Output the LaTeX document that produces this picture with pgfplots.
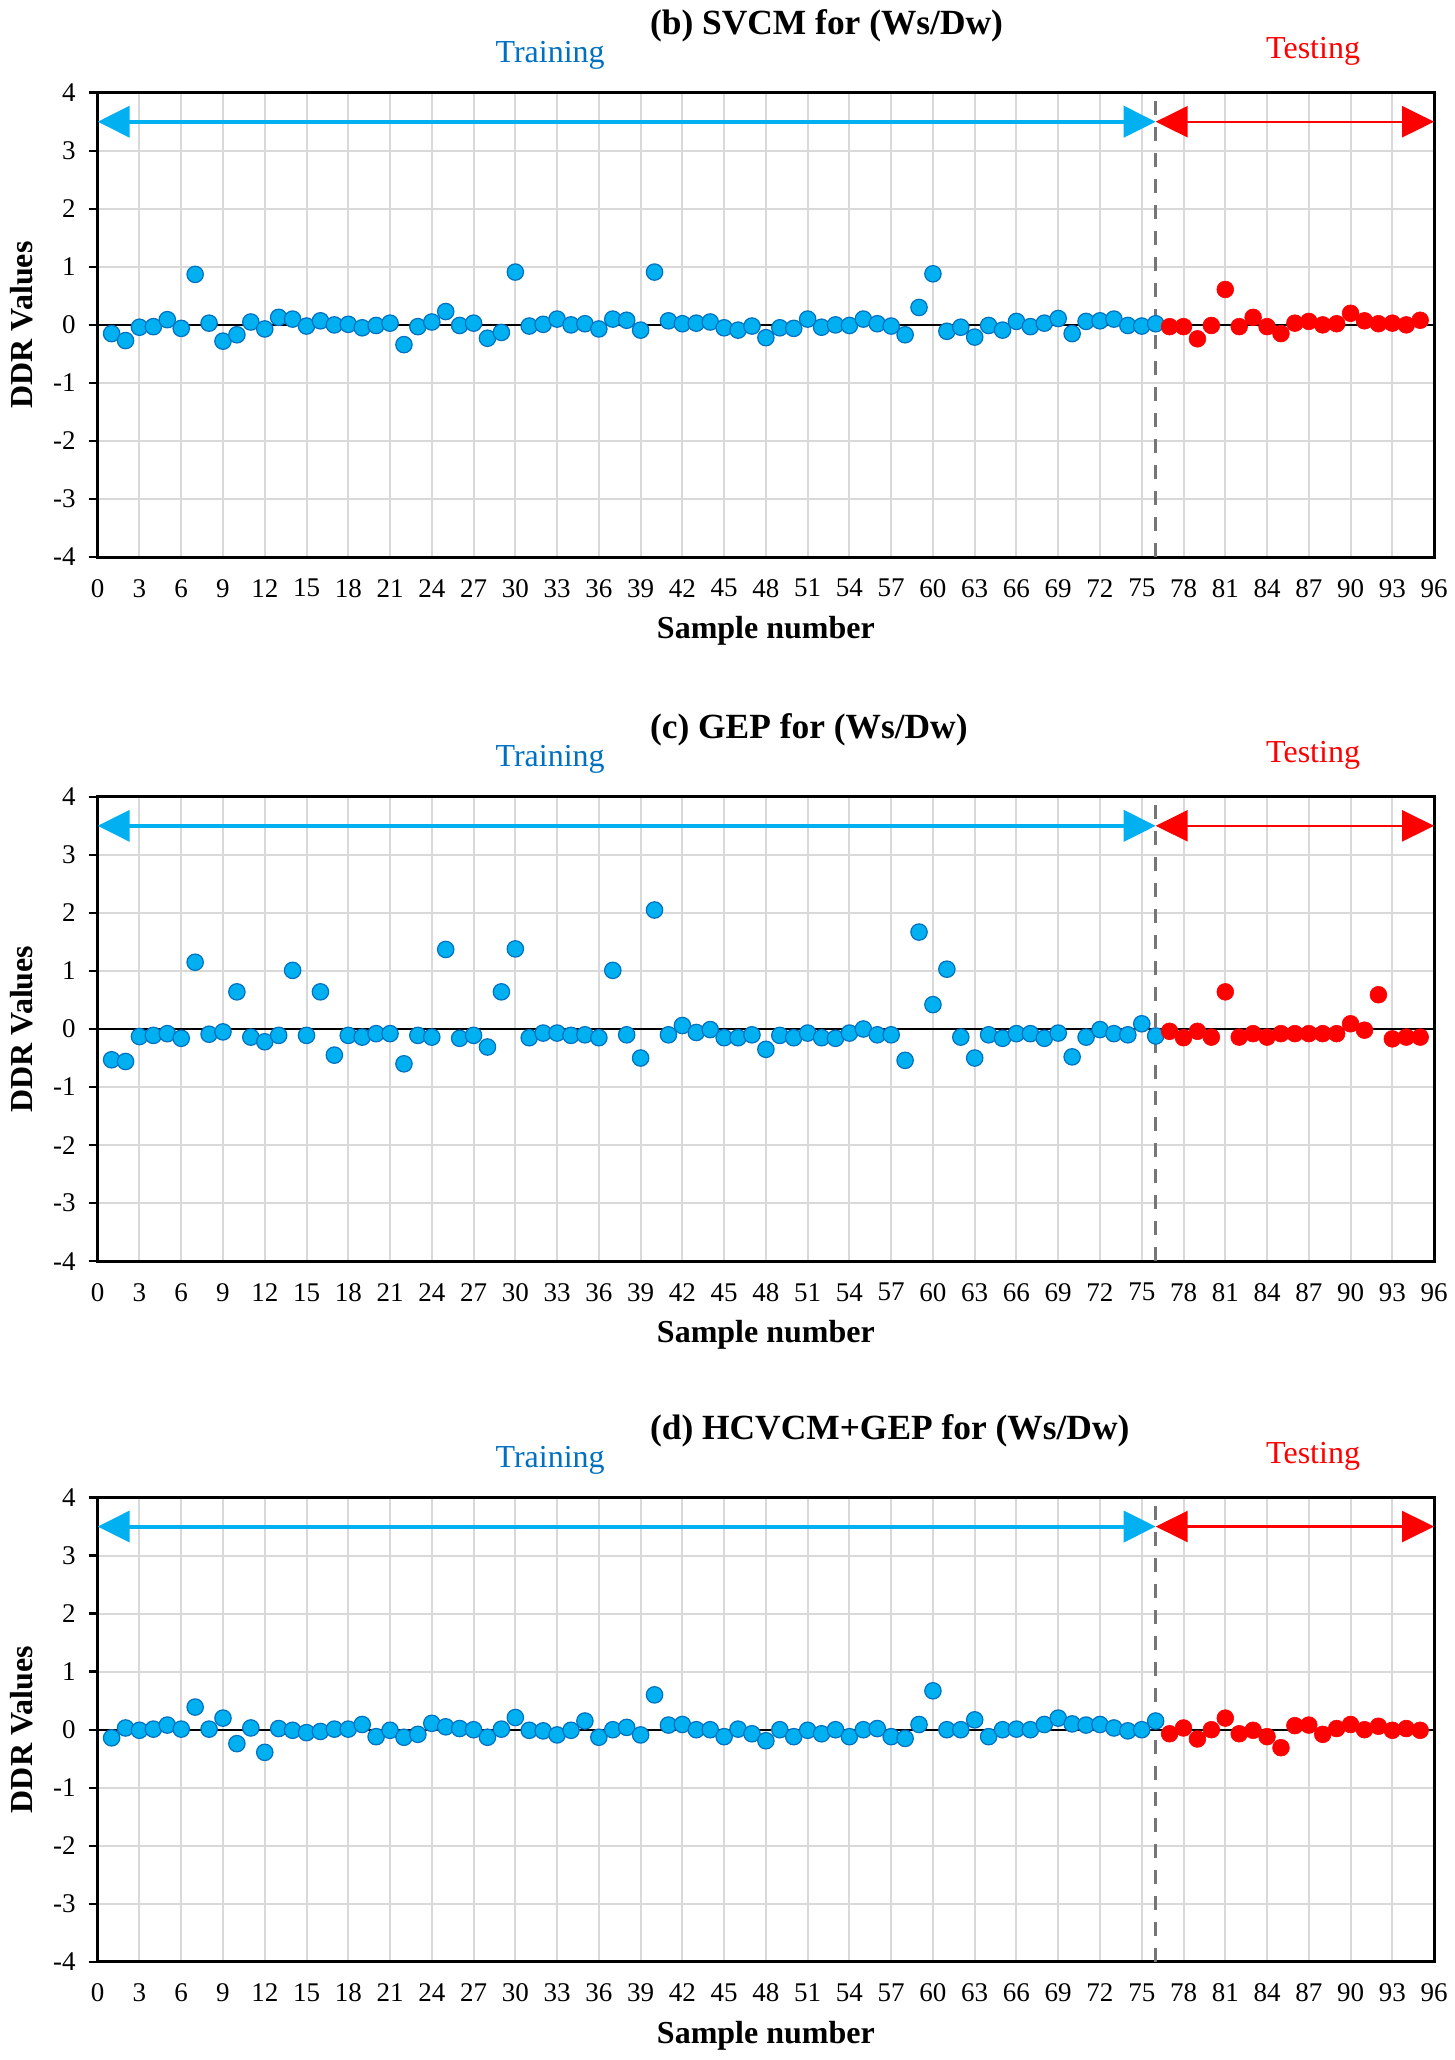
\documentclass[border=0pt]{standalone}
\usepackage{fontspec}
\setmainfont{Liberation Serif}
\usepackage{pgfplots}
\pgfplotsset{compat=1.18}
\usetikzlibrary{arrows.meta}
\definecolor{skyb}{RGB}{0,176,240}
\definecolor{edgeb}{RGB}{0,112,192}
\definecolor{txtb}{RGB}{0,112,192}
\definecolor{gridc}{RGB}{217,217,217}
\definecolor{dashc}{RGB}{118,118,118}

\pgfplotsset{
  ddr/.style={
    scale only axis, width=668.2pt, height=232.2pt,
    xmin=0,xmax=96,ymin=-4,ymax=4,
    xtick={0,3,...,96}, ytick={-4,-3,...,4},
    grid=major, major grid style={gridc, line width=1pt},
    axis line style={black, line width=1.5pt},
    tick align=outside, ytick pos=left, xtick pos=bottom,
    major tick length=4.5pt,
    xtick style={draw=none},
    ytick style={black, line width=1.2pt},
    /pgf/number format/assume math mode=true,
    tick label style={font=\fontsize{13.5}{16}\selectfont},
    xticklabel shift=3pt,
    yticklabel shift=3pt,
    xlabel={Sample number}, ylabel={DDR Values},
    every axis x label/.style={at={([yshift=-37pt]axis description cs:0.5,0)}, anchor=center, font=\fontsize{16}{19}\selectfont\bfseries},
    every axis y label/.style={at={([xshift=-37.9pt]axis description cs:0,0.5)}, anchor=center, rotate=90, font=\fontsize{16}{19}\selectfont\bfseries},
    clip=false,
  },
  trainp/.style={only marks, mark=*, mark size=4.1pt, mark options={fill=skyb, draw=edgeb, line width=0.6pt}},
  testp/.style={only marks, mark=*, mark size=4.2pt, mark options={fill=red, draw=red, line width=0.3pt}},
}
\newcommand{\decor}[1]{%
  \draw[black, line width=1pt] (axis cs:0,0) -- (axis cs:96,0);
  \draw[dashc, line width=1.8pt, dash pattern=on 7pt off 6pt] (axis cs:76,-4) -- (axis cs:76,4);
  \draw[skyb, line width=2pt, {Triangle[length=16pt,width=15.5pt]}-{Triangle[length=16pt,width=15.5pt]}] (axis cs:0,3.5) -- (axis cs:76,3.5);
  \draw[red, line width=1.2pt, {Triangle[length=16pt,width=15.5pt]}-{Triangle[length=16pt,width=15.5pt]}] (axis cs:76,3.5) -- (axis cs:96,3.5);
  \node[anchor=west, font=\fontsize{17.7}{21}\selectfont\bfseries] at ([xshift=272.65pt,yshift=33.5pt]rel axis cs:0,1) {#1};
  \node[txtb, font=\fontsize{16}{19}\selectfont] at ([xshift=226.2pt,yshift=18.5pt]rel axis cs:0,1) {Training};
  \node[red, font=\fontsize{16}{19}\selectfont] at ([xshift=607.7pt,yshift=20.7pt]rel axis cs:0,1) {Testing};
}

\begin{document}
\begin{tikzpicture}
\path[use as bounding box] (0,0) rectangle (727.5pt,-1030pt);

% ---------------- (b) SVCM ----------------
\begin{axis}[ddr, at={(48.85pt,-46.35pt)}, anchor=north west]
\decor{(b) SVCM for (Ws/Dw)}
\addplot[trainp] table {
x y
1 -0.15
2 -0.27
3 -0.04
4 -0.03
5 0.09
6 -0.06
7 0.87
8 0.03
9 -0.28
10 -0.17
11 0.05
12 -0.07
13 0.13
14 0.10
15 -0.02
16 0.07
17 0.00
18 0.01
19 -0.05
20 -0.01
21 0.03
22 -0.34
23 -0.03
24 0.05
25 0.23
26 -0.01
27 0.03
28 -0.23
29 -0.13
30 0.91
31 -0.02
32 0.01
33 0.10
34 0.00
35 0.02
36 -0.07
37 0.10
38 0.08
39 -0.09
40 0.91
41 0.07
42 0.02
43 0.03
44 0.05
45 -0.05
46 -0.09
47 -0.02
48 -0.22
49 -0.05
50 -0.06
51 0.10
52 -0.04
53 0.00
54 -0.01
55 0.10
56 0.02
57 -0.02
58 -0.17
59 0.30
60 0.88
61 -0.11
62 -0.04
63 -0.21
64 -0.01
65 -0.09
66 0.06
67 -0.03
68 0.03
69 0.11
70 -0.15
71 0.06
72 0.07
73 0.10
74 -0.01
75 -0.02
76 0.02
};
\addplot[testp] table {
x y
77 -0.03
78 -0.03
79 -0.24
80 -0.01
81 0.61
82 -0.03
83 0.13
84 -0.03
85 -0.15
86 0.03
87 0.06
88 0.00
89 0.02
90 0.20
91 0.07
92 0.02
93 0.03
94 0.00
95 0.08
};
\end{axis}

% ---------------- (c) GEP ----------------
\begin{axis}[ddr, at={(48.85pt,-398.4pt)}, anchor=north west]
\decor{(c) GEP for (Ws/Dw)}
\addplot[trainp] table {
x y
1 -0.53
2 -0.56
3 -0.13
4 -0.11
5 -0.08
6 -0.16
7 1.15
8 -0.09
9 -0.05
10 0.64
11 -0.14
12 -0.22
13 -0.11
14 1.01
15 -0.11
16 0.64
17 -0.45
18 -0.11
19 -0.14
20 -0.08
21 -0.08
22 -0.60
23 -0.11
24 -0.14
25 1.37
26 -0.16
27 -0.11
28 -0.31
29 0.64
30 1.38
31 -0.15
32 -0.07
33 -0.07
34 -0.11
35 -0.10
36 -0.15
37 1.01
38 -0.10
39 -0.50
40 2.05
41 -0.10
42 0.06
43 -0.06
44 -0.01
45 -0.15
46 -0.15
47 -0.10
48 -0.35
49 -0.11
50 -0.15
51 -0.07
52 -0.15
53 -0.16
54 -0.07
55 0.00
56 -0.10
57 -0.10
58 -0.54
59 1.67
60 0.42
61 1.03
62 -0.14
63 -0.50
64 -0.10
65 -0.16
66 -0.08
67 -0.08
68 -0.16
69 -0.07
70 -0.48
71 -0.14
72 -0.01
73 -0.08
74 -0.10
75 0.09
76 -0.12
};
\addplot[testp] table {
x y
77 -0.04
78 -0.15
79 -0.04
80 -0.14
81 0.64
82 -0.14
83 -0.08
84 -0.14
85 -0.08
86 -0.08
87 -0.08
88 -0.08
89 -0.08
90 0.09
91 -0.02
92 0.59
93 -0.17
94 -0.14
95 -0.14
};
\end{axis}

% ---------------- (d) HCVCM+GEP ----------------
\begin{axis}[ddr, at={(48.85pt,-748.75pt)}, anchor=north west]
\decor{(d) HCVCM+GEP for (Ws/Dw)}
\addplot[trainp] table {
x y
1 -0.14
2 0.03
3 -0.01
4 0.01
5 0.08
6 0.01
7 0.39
8 0.01
9 0.20
10 -0.24
11 0.03
12 -0.39
13 0.02
14 -0.01
15 -0.05
16 -0.03
17 0.01
18 0.01
19 0.09
20 -0.12
21 -0.01
22 -0.13
23 -0.08
24 0.11
25 0.05
26 0.02
27 0.00
28 -0.13
29 0.01
30 0.21
31 -0.01
32 -0.02
33 -0.09
34 -0.01
35 0.15
36 -0.13
37 0.00
38 0.04
39 -0.09
40 0.60
41 0.08
42 0.09
43 0.00
44 0.00
45 -0.12
46 0.01
47 -0.07
48 -0.19
49 0.00
50 -0.12
51 -0.01
52 -0.07
53 0.00
54 -0.12
55 0.00
56 0.02
57 -0.12
58 -0.15
59 0.09
60 0.67
61 0.00
62 0.00
63 0.17
64 -0.12
65 0.00
66 0.01
67 0.00
68 0.09
69 0.20
70 0.10
71 0.08
72 0.09
73 0.03
74 -0.02
75 0.00
76 0.15
};
\addplot[testp] table {
x y
77 -0.07
78 0.03
79 -0.16
80 0.00
81 0.20
82 -0.07
83 -0.01
84 -0.12
85 -0.31
86 0.07
87 0.08
88 -0.08
89 0.02
90 0.09
91 0.00
92 0.06
93 -0.01
94 0.02
95 -0.01
};
\end{axis}
\end{tikzpicture}
\end{document}
